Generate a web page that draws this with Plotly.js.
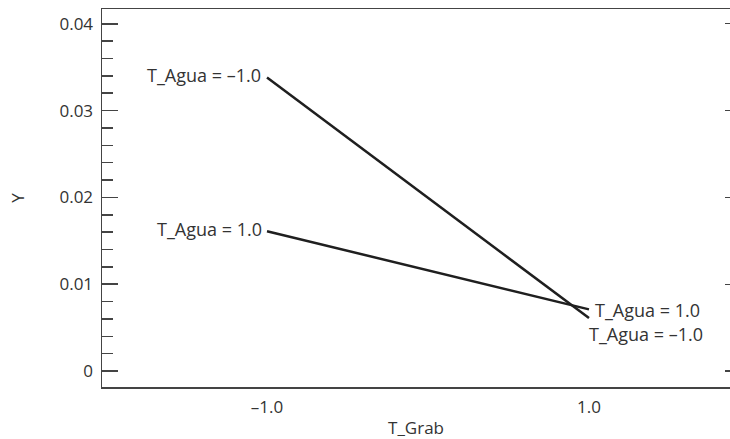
<!DOCTYPE html>
<html>
<head>
<meta charset="utf-8">
<script src="https://cdn.plot.ly/plotly-3.0.1.min.js"></script>
<style>html,body{margin:0;padding:0;background:#fff;}#chart{width:730px;height:439px;}</style>
</head>
<body>
<div id="chart"></div>
<script>
// Data
const tGrab = [-1, 1];
const xTickVals = [-1, 1];
const xTickText = ['–1.0', '1.0'];
const yAguaNeg = [0.0338, 0.0061];   // T_Agua = –1.0
const yAguaPos = [0.0161, 0.0071];   // T_Agua = 1.0
const seriesNames = ['T_Agua = –1.0', 'T_Agua = 1.0'];
const yTickVals = [0, 0.01, 0.02, 0.03, 0.04];
const yTickText = ['0', '0.01', '0.02', '0.03', '0.04'];

const lineStyle = {color: '#1f1f1f', width: 2.5};
const traces = [
  {x: tGrab, y: yAguaNeg, mode: 'lines', line: lineStyle, name: seriesNames[0], showlegend: false, hoverinfo: 'skip'},
  {x: tGrab, y: yAguaPos, mode: 'lines', line: lineStyle, name: seriesNames[1], showlegend: false, hoverinfo: 'skip'},
  {x: tGrab, y: yAguaPos, mode: 'lines', line: {width: 0}, yaxis: 'y2', showlegend: false, hoverinfo: 'skip'}
];

const fontFam = '"Open Sans", "Noto Sans", sans-serif';
const fs = 17;
const annFont = {family: fontFam, size: 18, color: '#333'};
const annotations = [
  {x: tGrab[0], y: yAguaNeg[0], text: seriesNames[0], xanchor: 'right', yanchor: 'middle', xshift: -4, yshift: 3, showarrow: false, font: annFont},
  {x: tGrab[0], y: yAguaPos[0], text: seriesNames[1], xanchor: 'right', yanchor: 'middle', xshift: -3, yshift: 2, showarrow: false, font: annFont},
  {x: tGrab[1], y: yAguaPos[1], text: seriesNames[1], xanchor: 'left', yanchor: 'middle', xshift: 4, yshift: -1, showarrow: false, font: annFont},
  {x: tGrab[1], y: yAguaNeg[1], text: seriesNames[0], xanchor: 'left', yanchor: 'middle', xshift: -2, yshift: -16, showarrow: false, font: annFont}
];

const yRange = [-0.00184, 0.0417];
const layout = {
  width: 730, height: 439,
  margin: {l: 102, r: 0, t: 9, b: 52},
  paper_bgcolor: '#fff', plot_bgcolor: '#fff',
  font: {family: fontFam, size: fs, color: '#333'},
  xaxis: {
    range: [-2.025, 1.876],
    tickvals: xTickVals, ticktext: xTickText,
    ticks: '', showgrid: false, zeroline: false,
    showline: true, mirror: true, linecolor: '#444', linewidth: 1.5,
    ticklabelstandoff: 4,
    tickfont: {family: fontFam, size: fs, color: '#333'},
    title: {text: 'T_Grab', font: {family: fontFam, size: fs, color: '#333'}, standoff: 6}
  },
  yaxis: {
    range: yRange,
    tickvals: yTickVals, ticktext: yTickText,
    ticks: 'inside', ticklen: 16, tickwidth: 1.5, tickcolor: '#444',
    minor: {dtick: 0.002, ticks: 'inside', ticklen: 11, tickwidth: 1.5, tickcolor: '#444', showgrid: false},
    showgrid: false, zeroline: false,
    showline: true, linecolor: '#444', linewidth: 1.5,
    ticklabelstandoff: 4,
    tickfont: {family: fontFam, size: fs, color: '#333'},
    title: {text: 'Y', font: {family: fontFam, size: fs, color: '#333'}, standoff: 30}
  },
  yaxis2: {
    overlaying: 'y', side: 'right', range: yRange,
    tickvals: yTickVals, showticklabels: false,
    ticks: 'inside', ticklen: 5, tickwidth: 1.2, tickcolor: '#444',
    showgrid: false, zeroline: false, showline: false
  },
  annotations: annotations,
  showlegend: false
};

Plotly.newPlot('chart', traces, layout, {staticPlot: true, displayModeBar: false});
</script>
</body>
</html>
